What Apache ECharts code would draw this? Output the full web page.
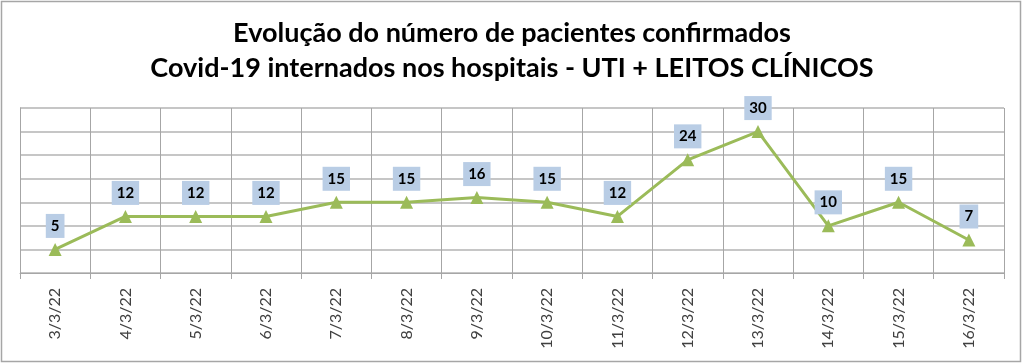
<!DOCTYPE html>
<html><head><meta charset="utf-8">
<script src="https://cdn.jsdelivr.net/npm/echarts@6/dist/echarts.min.js"></script>
<style>html,body{margin:0;padding:0;background:#fff}#c{width:1024px;height:364px}</style>
</head><body><div id="c"></div>
<script>
const categories = ['3/3/22','4/3/22','5/3/22','6/3/22','7/3/22','8/3/22','9/3/22','10/3/22','11/3/22','12/3/22','13/3/22','14/3/22','15/3/22','16/3/22'];
const patients = [5,12,12,12,15,15,16,15,12,24,30,10,15,7];
const titleLines = ['Evolução do número de pacientes confirmados','Covid-19 internados nos hospitais - UTI + LEITOS CLÍNICOS'];

const chart = echarts.init(document.getElementById('c'), null, {renderer:'canvas'});
chart.setOption({
  backgroundColor:'#fff',
  animation:false,
  graphic:[{type:'rect',shape:{x:1.5,y:1.5,width:1019,height:360},style:{fill:'none',stroke:'#a6a6a6',lineWidth:1.5}}],
  title:{
    text:titleLines.join('\n'),
    left:'center', top:11,
    textStyle:{fontFamily:'Lato',fontWeight:'bold',fontSize:27,lineHeight:35,color:'#000'}
  },
  grid:{left:20,right:20,top:108,bottom:91,containLabel:false},
  xAxis:{
    type:'category', data:categories, boundaryGap:true,
    axisLine:{show:true,lineStyle:{color:'#a6a6a6',width:1}},
    axisTick:{show:true,length:6,lineStyle:{color:'#a6a6a6'}},
    splitLine:{show:true,lineStyle:{color:'#a6a6a6',width:1}},
    axisLabel:{rotate:90,margin:15,fontFamily:'Lato',fontSize:16,color:'#404040'}
  },
  yAxis:{
    type:'value', min:0, max:35, interval:5,
    axisLine:{show:true,lineStyle:{color:'#a6a6a6'}},
    axisTick:{show:false}, axisLabel:{show:false},
    splitLine:{show:true,lineStyle:{color:'#b3b3b3',width:1.5}}
  },
  series:[{
    type:'line', data:patients,
    symbol:'triangle', symbolSize:13,
    lineStyle:{color:'#9bbb59',width:3},
    itemStyle:{color:'#9bbb59'},
    label:{show:true,position:'top',distance:5,backgroundColor:'#b9cde5',padding:[3,5,3,5],lineHeight:18,
      fontFamily:'Lato',fontWeight:'bold',fontSize:15,color:'#000'}
  }]
});
</script></body></html>
